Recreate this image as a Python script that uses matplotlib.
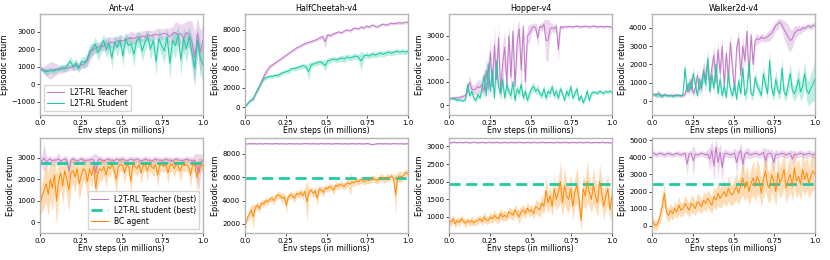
import numpy as np
import matplotlib.pyplot as plt

# colours
c_teacher = '#c27bc9'
c_student = '#1ecba4'
c_bc = '#ff8c0a'

envs = ['Ant-v4', 'HalfCheetah-v4', 'Hopper-v4', 'Walker2d-v4']

# ---------------- top row: training curves ----------------
ant_teacher = [900, 850, 780, 760, 800, 820, 850, 830, 870, 900, 920, 950, 1000, 1050, 1000,
               1100, 1150, 1300, 1700, 1950, 2050, 2100, 2200, 2150, 2300, 2350, 2400, 2350, 2450, 2500,
               2480, 2550, 2600, 2650, 2600, 2700, 2650, 2750, 2700, 2800, 2750, 2800, 2850, 2800, 2850,
               2900, 2850, 2700, 2900, 2950, 2800, 2900, 2600, 2950, 2850, 2400, 1500, 2900, 1800, 2500]
ant_teacher_sd = [100, 150, 300, 450, 500, 400, 300, 200, 250, 200, 200, 150, 200, 250, 200,
                  200, 250, 300, 400, 350, 300, 300, 250, 300, 400, 350, 300, 350, 300, 300,
                  300, 250, 300, 400, 300, 300, 250, 300, 350, 300, 300, 250, 300, 400, 300,
                  300, 350, 500, 400, 600, 700, 500, 900, 600, 800, 1200, 1500, 900, 1300, 900]
ant_student = [950, 800, 700, 750, 800, 750, 820, 900, 950, 900, 1100, 1300, 1000, 1200, 900,
               1300, 1250, 1400, 1900, 2000, 2300, 1800, 2100, 2500, 2000, 2300, 1500, 2400, 2100, 2500,
               1600, 2600, 2200, 2300, 1700, 2500, 2600, 1900, 2400, 2700, 2000, 2500, 1300, 2600, 2200,
               1900, 2700, 1200, 2500, 2200, 2800, 1400, 2600, 2000, 2700, 1800, 900, 2500, 1500, 1100]
ant_student_sd = [100, 150, 200, 200, 150, 200, 150, 150, 200, 200, 250, 300, 250, 300, 250,
                  300, 300, 350, 400, 350, 400, 450, 400, 350, 500, 400, 600, 400, 500, 400,
                  600, 400, 500, 450, 700, 400, 500, 600, 500, 400, 600, 500, 800, 500, 600,
                  700, 500, 900, 600, 700, 500, 900, 600, 800, 600, 900, 1000, 700, 900, 1000]

hc_teacher = [0, 400, 700, 900, 1500, 2100, 2700, 3300, 3800, 4200, 4400, 4600, 4800, 5000, 5200,
              5400, 5600, 5800, 6000, 6200, 6300, 6500, 6600, 6700, 6800, 6900, 7000, 7200, 7300, 6800,
              7500, 7400, 7600, 7700, 7800, 7700, 7900, 8000, 7900, 8100, 8200, 8100, 8300, 8200, 8400,
              8300, 8500, 8400, 8300, 8500, 8600, 8500, 8600, 8700, 8650, 8700, 8750, 8700, 8800, 8800]
hc_teacher_sd = [50, 100, 150, 200, 200, 250, 300, 400, 300, 200, 200, 150, 150, 150, 150,
                 150, 150, 150, 150, 150, 150, 150, 150, 150, 150, 150, 150, 200, 200, 700,
                 200, 150, 150, 150, 150, 150, 150, 150, 150, 150, 150, 150, 150, 150, 150,
                 150, 150, 150, 150, 150, 150, 150, 150, 150, 150, 150, 150, 150, 150, 150]
hc_student = [0, 400, 700, 900, 1500, 2000, 2600, 3000, 3100, 3200, 3200, 3300, 3300, 3500, 3600,
              3700, 3800, 4000, 4000, 4100, 4200, 4300, 4200, 3700, 4400, 4500, 4600, 4700, 4600, 4300,
              4800, 4900, 5000, 4900, 5000, 5100, 5000, 5200, 5100, 5200, 5300, 5200, 4800, 5300, 5400,
              5300, 5500, 5400, 5500, 5600, 5500, 5600, 5700, 5600, 5700, 5800, 5700, 5800, 5700, 5800]
hc_student_sd = [50, 100, 150, 200, 200, 250, 200, 200, 200, 200, 200, 200, 200, 250, 200,
                 250, 300, 200, 250, 200, 250, 300, 250, 900, 300, 250, 300, 250, 300, 600,
                 300, 300, 250, 300, 300, 300, 400, 300, 300, 300, 300, 300, 1000, 300, 300,
                 300, 300, 300, 300, 300, 300, 300, 300, 250, 300, 300, 250, 300, 250, 250]

hop_teacher = [250, 280, 300, 320, 300, 330, 350, 380, 420, 600,
               1000, 700, 650, 700, 800, 750, 900, 600, 1500, 700,
               2300, 800, 2600, 1100, 2900, 600, 1800, 2500, 900, 3000,
               1200, 3200, 800, 2700, 3300, 1500, 3400, 1000, 3000, 3100,
               3300, 3400, 3350, 2900, 3400, 3350, 3500, 2800, 2800, 3300,
               3350, 3300, 3400, 2400, 3400, 3350, 3400, 3380, 3400, 3400,
               3380, 3400, 3420, 3400, 3380, 3400, 3410, 3400, 3380, 3400,
               3420, 3400, 3380, 3400, 3400, 3380, 3400, 3390, 3400, 3350]
hop_teacher_sd = [60, 60, 60, 70, 80, 80, 90, 100, 120, 200,
                  300, 200, 200, 250, 300, 300, 350, 300, 600, 400,
                  700, 500, 800, 600, 700, 500, 800, 700, 600, 500,
                  700, 500, 600, 700, 400, 800, 300, 700, 400, 400,
                  200, 150, 200, 400, 150, 200, 200, 900, 900, 300,
                  150, 200, 150, 500, 100, 80, 60, 60, 60, 60,
                  60, 60, 60, 60, 60, 60, 60, 60, 60, 60,
                  60, 60, 60, 60, 60, 60, 60, 60, 60, 60]
hop_student = [250, 300, 280, 250, 200, 230, 200, 180, 250, 900,
               400, 600, 300, 200, 450, 300, 700, 1300, 400, 1800,
               600, 1500, 300, 1900, 800, 500, 1100, 300, 900, 600,
               400, 1000, 200, 700, 500, 900, 300, 600, 200, 500,
               700, 800, 600, 700, 500, 400, 700, 300, 600, 500,
               800, 400, 600, 300, 700, 500, 200, 600, 400, 800,
               300, 500, 700, 200, 400, 100, 300, 600, 200, 500,
               550, 550, 500, 600, 550, 500, 600, 550, 600, 550]
hop_student_sd = [50, 50, 60, 60, 60, 60, 60, 60, 80, 150,
                  100, 150, 100, 100, 150, 100, 200, 300, 200, 400,
                  300, 400, 200, 500, 300, 200, 300, 200, 300, 200,
                  200, 300, 150, 200, 200, 250, 150, 200, 150, 200,
                  200, 200, 150, 200, 150, 150, 200, 150, 200, 150,
                  200, 150, 200, 150, 200, 150, 100, 200, 150, 200,
                  150, 150, 200, 100, 150, 100, 150, 200, 100, 150,
                  80, 80, 80, 80, 80, 80, 80, 80, 80, 80]

wal_teacher = [350, 380, 330, 400, 350, 300, 350, 320, 300, 330, 300, 320, 350, 300, 280, 300,
               350, 900, 500, 1200, 400, 700, 1400, 600, 1000, 1700, 1200, 2200, 900, 1800, 2500, 1000,
               2800, 1500, 3000, 800, 2600, 1200, 3200, 1800, 600, 2900, 3400, 1400, 3000, 2200, 3800, 1300,
               3600, 2000, 3300, 3400, 3350, 3500, 3400, 3450, 3500, 3600, 3700, 3900, 4100, 4200, 4300, 4150,
               3900, 3700, 3500, 3300, 3400, 3700, 3800, 3900, 3850, 4000, 3950, 4050, 4100, 4000, 4150, 4100]
wal_teacher_sd = [80, 100, 150, 200, 150, 100, 100, 100, 80, 80, 80, 80, 80, 80, 80, 80,
                  100, 300, 200, 400, 200, 300, 400, 300, 400, 500, 400, 500, 400, 500, 500, 400,
                  500, 500, 500, 400, 500, 500, 500, 500, 300, 500, 500, 500, 500, 500, 500, 500,
                  400, 500, 300, 300, 200, 200, 200, 200, 250, 300, 300, 300, 250, 300, 200, 300,
                  500, 600, 700, 600, 500, 400, 300, 250, 200, 200, 150, 150, 150, 150, 150, 150]
wal_student = [380, 350, 300, 400, 300, 250, 350, 300, 280, 300, 250, 300, 280, 320, 300, 350,
               1800, 500, 1000, 600, 1500, 900, 300, 1200, 700, 1600, 900, 2300, 500, 1400, 700, 2000,
               400, 1200, 300, 800, 200, 1500, 600, 300, 900, 100, 1100, 400, 1800, 300, 600, 2100,
               400, 300, 1300, 800, 600, 300, 1500, 900, 400, 2200, 700, 300, 1200, 600, 400, 1800,
               500, 300, 900, 1500, 600, 400, 700, 1200, 500, 800, 1500, 600, 400, 700, 900, 1200]
wal_student_sd = [80, 80, 100, 150, 100, 100, 80, 80, 80, 80, 80, 80, 80, 80, 80, 80,
                  400, 200, 300, 200, 400, 300, 200, 400, 300, 500, 400, 500, 300, 400, 300, 500,
                  300, 400, 200, 300, 200, 400, 300, 200, 300, 200, 400, 300, 500, 300, 400, 500,
                  300, 200, 400, 300, 300, 200, 500, 400, 300, 600, 400, 300, 500, 400, 300, 600,
                  400, 300, 500, 600, 400, 400, 500, 700, 500, 600, 700, 600, 700, 800, 900, 1200]

# ---------------- bottom row: BC agent vs best ----------------
ant_best_teacher = [2900, 2850, 3000, 2800, 2900, 2950, 2850, 2900, 2900, 2950, 2850, 2900, 2950, 2900, 2400, 2900,
                    2950, 2900, 2850, 2900, 2950, 2900, 2850, 2900, 2900, 2950, 2900, 2300, 2900, 2950, 2900, 2850,
                    2900, 2950, 2900, 2900, 2850, 2950, 2900, 2900, 2950, 2900, 2850, 2900, 2950, 2900, 2900, 2950,
                    2900, 2850, 2900, 2950, 2900, 2900, 2850, 2900, 2950, 2900, 2900, 2850, 2900, 2950, 2900, 2900,
                    2850, 2900, 2950, 2900, 2900, 2850, 2900, 2950, 2900, 2900, 2850, 2900, 2600, 2300, 2800, 2900]
ant_best_teacher_sd = [150, 300, 700, 300, 150, 150, 150, 150, 200, 300, 150, 150, 150, 200, 500, 150,
                       150, 150, 150, 150, 150, 150, 150, 150, 150, 150, 300, 900, 200, 150, 150, 150,
                       150, 150, 150, 150, 150, 150, 150, 150, 150, 150, 150, 150, 150, 150, 150, 150,
                       150, 150, 150, 150, 150, 150, 150, 150, 150, 150, 150, 150, 150, 150, 150, 150,
                       150, 150, 150, 150, 150, 150, 150, 150, 150, 150, 200, 300, 600, 900, 400, 200]
ant_bc = [800, 1200, 1500, 1800, 1300, 2000, 1600, 2200, 1000, 1900,
          2300, 1700, 2400, 2000, 1500, 2300, 2400, 2100, 2500, 1800,
          2200, 2500, 2400, 1900, 2500, 2200, 2600, 1600, 2300, 2500,
          2400, 2600, 2200, 2600, 2500, 2700, 2400, 2000, 2600, 2700,
          2650, 2300, 2700, 2600, 1900, 2700, 2600, 2500, 2700, 2300,
          2650, 2700, 2400, 2700, 2600, 2500, 2700, 2200, 2650, 2700,
          2600, 2700, 2300, 2650, 2700, 2500, 2700, 2600, 2400, 2700,
          2650, 2700, 2600, 2200, 2700, 2650, 2100, 2600, 2700, 2600]
ant_bc_sd = [500, 700, 800, 900, 1000, 900, 1100, 800, 1200, 900,
             700, 900, 600, 800, 1000, 700, 600, 700, 500, 800,
             700, 500, 600, 800, 500, 600, 400, 900, 600, 500,
             500, 400, 600, 400, 400, 300, 500, 700, 400, 300,
             300, 500, 300, 300, 700, 300, 300, 400, 300, 500,
             300, 300, 500, 300, 300, 400, 300, 600, 300, 300,
             300, 300, 500, 300, 300, 400, 300, 300, 500, 300,
             300, 300, 300, 600, 300, 300, 700, 400, 300, 300]

hc_best_teacher = [8850, 8830, 8860, 8840, 8870, 8850, 8830, 8860, 8850, 8840, 8870, 8850, 8860, 8830, 8850, 8870,
                   8850, 8840, 8860, 8850, 8830, 8850, 8870, 8850, 8840, 8860, 8850, 8830, 8850, 8870, 8860, 8850,
                   8840, 8860, 8850, 8830, 8850, 8870, 8850, 8840, 8860, 8850, 8830, 8850, 8870, 8860, 8850, 8840,
                   8850, 8860, 8830, 8850, 8870, 8850, 8840, 8860, 8850, 8830, 8850, 8870, 8850, 8800, 8780, 8820,
                   8850, 8860, 8850, 8840, 8860, 8850, 8830, 8850, 8870, 8850, 8840, 8860, 8850, 8830, 8850, 8860]
hc_best_teacher_sd = [60] * 80
hc_bc = [1700, 2500, 2800, 3200, 2600, 3400, 3600, 3300, 3800, 3700,
         4000, 3900, 4100, 4200, 4000, 4300, 4500, 4400, 4200, 4300,
         3600, 4300, 4500, 4400, 4200, 4600, 4500, 4700, 4400, 4800,
         3900, 4700, 4900, 4600, 4800, 4200, 5000, 4900, 4700, 5100,
         5000, 5200, 5100, 4900, 5300, 5200, 5400, 5300, 5200, 5400,
         5500, 5400, 5600, 5500, 5700, 5600, 5800, 5700, 5600, 5800,
         5700, 5800, 5900, 5800, 5700, 5900, 6000, 5900, 5800, 6000,
         5900, 6100, 5900, 4500, 6000, 6100, 6000, 6200, 6400, 6300]
hc_bc_sd = [200, 300, 400, 400, 1100, 300, 300, 400, 300, 300,
            300, 300, 250, 300, 400, 300, 300, 300, 400, 300,
            700, 300, 300, 300, 400, 300, 300, 300, 400, 300,
            1800, 300, 300, 400, 300, 700, 300, 300, 400, 300,
            300, 300, 300, 400, 300, 300, 300, 300, 300, 300,
            300, 1000, 300, 300, 300, 300, 300, 300, 300, 300,
            300, 300, 300, 300, 300, 300, 300, 300, 300, 300,
            300, 300, 300, 1700, 400, 500, 400, 300, 300, 300]

hop_best_teacher = [3110, 3100, 3120, 3110, 3100, 3115, 3110, 3105, 3120, 3110, 3100, 3110, 3120, 3110, 3100, 3110,
                    3115, 3110, 3100, 3120, 3110, 3105, 3110, 3120, 3110, 3100, 3110, 3115, 3110, 3100, 3120, 3110,
                    3105, 3110, 3120, 3110, 3100, 3110, 3115, 3110, 3100, 3120, 3110, 3105, 3110, 3120, 3110, 3100,
                    3110, 3115, 3110, 3100, 3120, 3110, 3105, 3110, 3120, 3110, 3100, 3110, 3115, 3110, 3100, 3120,
                    3110, 3105, 3110, 3120, 3110, 3100, 3110, 3115, 3110, 3100, 3120, 3110, 3105, 3110, 3100, 3100]
hop_best_teacher_sd = [25] * 80
hop_bc = [900, 850, 950, 800, 900, 850, 950, 880, 820, 900,
          850, 900, 830, 880, 900, 950, 870, 1000, 920, 900,
          1000, 950, 1050, 980, 950, 1100, 1000, 1050, 1000, 1150,
          1100, 1050, 1200, 1100, 1000, 1150, 1200, 1100, 1250, 1150,
          1200, 1100, 1300, 1250, 1200, 1400, 1300, 1750, 1400, 1600,
          1300, 1800, 1500, 1700, 2000, 1400, 1900, 1600, 1500, 1800,
          1300, 1700, 1900, 1500, 900, 1800, 1600, 2000, 1700, 1500,
          1900, 1600, 1400, 2000, 1700, 1300, 1600, 1800, 1200, 1600]
hop_bc_sd = [100, 120, 100, 120, 100, 120, 100, 100, 120, 100,
             100, 120, 100, 100, 120, 100, 120, 150, 120, 100,
             150, 120, 150, 120, 150, 150, 120, 150, 120, 150,
             150, 150, 150, 150, 200, 150, 150, 150, 150, 150,
             150, 150, 200, 200, 200, 250, 200, 400, 300, 300,
             300, 400, 300, 400, 600, 400, 500, 400, 400, 400,
             400, 400, 500, 400, 300, 400, 400, 600, 400, 400,
             500, 400, 400, 500, 400, 400, 400, 400, 300, 400]

wal_best_teacher = [4200, 4250, 4150, 4200, 4250, 4200, 4150, 4200, 4250, 4200, 4150, 4200, 4250, 4200, 4150, 4200,
                    4250, 3600, 4200, 4250, 3800, 4200, 4150, 4200, 4250, 4200, 4150, 4200, 3900, 4400, 3500, 4600,
                    3700, 4300, 3400, 4200, 4250, 4200, 4150, 4200, 4250, 3700, 4200, 4400, 3600, 4200, 4300, 4200,
                    4150, 4200, 4250, 4200, 4150, 4200, 4300, 3800, 4200, 4250, 4200, 3700, 4200, 4150, 4200, 4250,
                    4200, 4150, 4200, 4250, 3900, 4200, 4150, 4200, 4250, 4200, 4150, 4200, 4250, 4200, 4150, 4200]
wal_best_teacher_sd = [150, 150, 150, 150, 150, 150, 150, 150, 150, 150, 150, 150, 150, 150, 150, 150,
                       150, 700, 200, 150, 900, 200, 150, 150, 150, 150, 200, 300, 700, 600, 900, 500,
                       800, 500, 900, 300, 200, 200, 200, 200, 300, 700, 300, 500, 700, 300, 300, 300,
                       200, 200, 200, 200, 200, 200, 300, 700, 300, 200, 300, 600, 300, 200, 200, 200,
                       200, 200, 200, 200, 500, 200, 200, 200, 200, 200, 200, 200, 200, 200, 200, 200]
wal_bc = [300, 100, 0, 200, 600, 1200, 1900, 800, 600, 900,
          700, 1000, 800, 1200, 900, 1000, 1300, 1100, 900, 1300,
          1200, 1000, 1400, 1300, 1100, 1500, 1300, 1600, 1400, 1200,
          1700, 1500, 1900, 1600, 1800, 2000, 1700, 2200, 1900, 1800,
          2100, 2300, 1900, 2400, 2800, 2200, 2600, 2000, 2500, 2800,
          2300, 2900, 2600, 1900, 2700, 3200, 2400, 2200, 3000, 2600,
          2000, 3100, 2500, 2800, 3300, 2200, 2700, 3000, 2300, 3400,
          2600, 2900, 2400, 3300, 2700, 3100, 2500, 2900, 3200, 3000]
wal_bc_sd = [300, 300, 300, 300, 400, 500, 600, 400, 400, 400,
             400, 400, 400, 500, 400, 400, 500, 400, 400, 500,
             500, 400, 500, 500, 400, 500, 500, 500, 500, 500,
             600, 600, 700, 600, 600, 700, 600, 700, 700, 600,
             700, 800, 700, 800, 1000, 800, 900, 800, 900, 1000,
             900, 1000, 900, 800, 1000, 1100, 900, 900, 1000, 900,
             900, 1000, 900, 1000, 1100, 900, 1000, 1000, 900, 1100,
             1000, 1000, 900, 1100, 1000, 1000, 900, 1000, 1100, 1000]

student_best = [2750, 5900, 1930, 2420]

top_teacher = [(ant_teacher, ant_teacher_sd), (hc_teacher, hc_teacher_sd),
               (hop_teacher, hop_teacher_sd), (wal_teacher, wal_teacher_sd)]
top_student = [(ant_student, ant_student_sd), (hc_student, hc_student_sd),
               (hop_student, hop_student_sd), (wal_student, wal_student_sd)]
bot_teacher = [(ant_best_teacher, ant_best_teacher_sd), (hc_best_teacher, hc_best_teacher_sd),
               (hop_best_teacher, hop_best_teacher_sd), (wal_best_teacher, wal_best_teacher_sd)]
bot_bc = [(ant_bc, ant_bc_sd), (hc_bc, hc_bc_sd), (hop_bc, hop_bc_sd), (wal_bc, wal_bc_sd)]

top_ylim = [(-1750, 4000), (-800, 9650), (-430, 3940), (-760, 4745)]
top_yticks = [[-1000, 0, 1000, 2000, 3000], [0, 2000, 4000, 6000, 8000],
              [0, 1000, 2000, 3000], [0, 1000, 2000, 3000, 4000]]
bot_ylim = [(-500, 3930), (1230, 9340), (547, 3236), (-430, 5140)]
bot_yticks = [[0, 1000, 2000, 3000], [2000, 4000, 6000, 8000],
              [1000, 1500, 2000, 2500, 3000], [0, 1000, 2000, 3000, 4000, 5000]]

W, H = 830, 260
lefts = [40, 245, 449, 652]
width = 163


def curve(ax, data, color, label=None):
    y = np.array(data[0], dtype=float)
    sd = np.array(data[1], dtype=float)
    x = np.linspace(0, 1, len(y))
    ax.fill_between(x, y - sd, y + sd, color=color, alpha=0.3, lw=0)
    ax.plot(x, y, color=color, lw=0.75, label=label)


def style(ax, ylim, yticks):
    ax.set_xlim(0, 1)
    ax.set_ylim(*ylim)
    ax.set_yticks(yticks)
    ax.set_xticks([0, 0.25, 0.5, 0.75, 1.0])
    ax.set_xticklabels(['0.0', '0.25', '0.5', '0.75', '1.0'])
    ax.tick_params(labelsize=5.1, length=2, width=0.5, pad=1.5)
    for s in ax.spines.values():
        s.set_color('#b5b5b5')
        s.set_linewidth(1.0)
    ax.set_xlabel('Env steps (in millions)', fontsize=5.6, labelpad=0.3)
    ax.set_ylabel('Episodic return', fontsize=5.8, labelpad=1.5)


fig = plt.figure(figsize=(W / 100, H / 100), dpi=100)

for i in range(4):
    ax = fig.add_axes([lefts[i] / W, 1 - 115 / H, width / W, 101 / H])
    curve(ax, top_teacher[i], c_teacher, 'L2T-RL Teacher')
    curve(ax, top_student[i], c_student, 'L2T-RL Student')
    style(ax, top_ylim[i], top_yticks[i])
    ax.set_title(envs[i], fontsize=5.8, pad=2)
    if i == 0:
        ax.legend(loc='lower left', fontsize=5.5, handlelength=2.2, borderpad=0.4,
                  labelspacing=0.3, framealpha=0.8)

    ax2 = fig.add_axes([lefts[i] / W, 1 - 233 / H, width / W, 95 / H])
    curve(ax2, bot_teacher[i], c_teacher, 'L2T-RL Teacher (best)')
    ax2.axhline(student_best[i], color=c_student, lw=2.0, ls=(0, (4, 2)),
                label='L2T-RL student (best)')
    curve(ax2, bot_bc[i], c_bc, 'BC agent')
    style(ax2, bot_ylim[i], bot_yticks[i])
    if i == 0:
        ax2.legend(loc='lower right', fontsize=5.5, handlelength=2.2, borderpad=0.4,
                   labelspacing=0.3, framealpha=0.8)

fig.savefig('out.png', dpi=100)
